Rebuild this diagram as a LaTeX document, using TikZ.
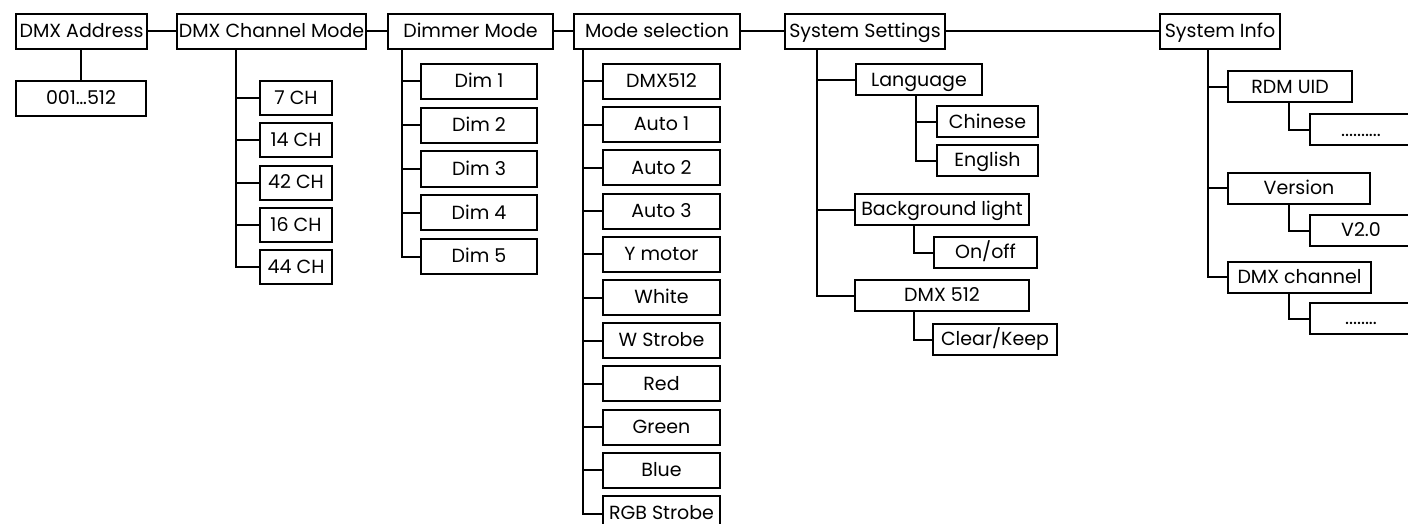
\documentclass[tikz,border=0pt]{standalone}
\usepackage{fontspec}
\setmainfont{Poppins}

\tikzset{
  menu/.style={draw, line width=2pt, inner sep=0pt, minimum height=35pt,
    text height=12.5pt, text depth=0pt, font=\fontsize{19}{21}\selectfont},
  item/.style={menu, minimum height=31pt},
  link/.style={line width=2pt}
}

\begin{document}
\begin{tikzpicture}[x=1pt, y=-1pt, line cap=rect]

    % Picture frame
    \clip (0,0) rectangle (1408,524);
    \fill[white] (0,0) rectangle (1408,524);

    % Top menu row
    \node[menu, minimum width=131pt] (addr) at (81.5,31.5) {DMX Address};
    \node[menu, minimum width=189pt] (chmode) at (271.5,31.5) {DMX Channel Mode};
    \node[menu, minimum width=165pt] (dimmer) at (470.5,31.5) {Dimmer Mode};
    \node[menu, minimum width=166pt] (modesel) at (657,31.5) {Mode selection};
    \node[menu, minimum width=160pt] (syss) at (865,31.5) {System Settings};
    \node[menu, minimum width=120pt] (sysinfo) at (1220,31.5) {System Info};

    \draw[link] (addr) -- (chmode);
    \draw[link] (chmode) -- (dimmer);
    \draw[link] (dimmer) -- (modesel);
    \draw[link] (modesel) -- (syss);
    \draw[link] (syss) -- (sysinfo);

    % DMX address
    \node[menu, minimum width=130pt] (addrval) at (81,98.5) {001…512};
    \draw[link] (addrval |- addr.south) -- (addrval);

    % Channel modes
    \begin{scope}[every node/.style={menu, minimum width=72pt, minimum height=34pt}]
        \node (ch7) at (296,98) {7 CH};
        \node (ch14) at (296,140.25) {14 CH};
        \node (ch42) at (296,182.5) {42 CH};
        \node (ch16) at (296,224.75) {16 CH};
        \node (ch44) at (296,267) {44 CH};
    \end{scope}
    \draw[link] (chmode.south west) ++(60,0) |- (ch7.west);
    \draw[link] (chmode.south west) ++(60,0) |- (ch14.west);
    \draw[link] (chmode.south west) ++(60,0) |- (ch42.west);
    \draw[link] (chmode.south west) ++(60,0) |- (ch16.west);
    \draw[link] (chmode.south west) ++(60,0) |- (ch44.west);

    % Dimmer modes
    \begin{scope}[every node/.style={menu, minimum width=116pt}]
        \node (dim1) at (479,81.5) {Dim 1};
        \node (dim2) at (479,125.25) {Dim 2};
        \node (dim3) at (479,169) {Dim 3};
        \node (dim4) at (479,212.75) {Dim 4};
        \node (dim5) at (479,256.5) {Dim 5};
    \end{scope}
    \draw[link] (dimmer.south west) ++(15,0) |- (dim1.west);
    \draw[link] (dimmer.south west) ++(15,0) |- (dim2.west);
    \draw[link] (dimmer.south west) ++(15,0) |- (dim3.west);
    \draw[link] (dimmer.south west) ++(15,0) |- (dim4.west);
    \draw[link] (dimmer.south west) ++(15,0) |- (dim5.west);

    % Run modes
    \begin{scope}[every node/.style={menu, minimum width=117pt}]
        \node (dmx) at (661.5,81.5) {DMX512};
        \node (auto1) at (661.5,124.7) {Auto 1};
        \node (auto2) at (661.5,167.9) {Auto 2};
        \node (auto3) at (661.5,211.1) {Auto 3};
        \node (ymotor) at (661.5,254.3) {Y motor};
        \node (white) at (661.5,297.5) {White};
        \node (wstrobe) at (661.5,340.7) {W Strobe};
        \node (red) at (661.5,383.9) {Red};
        \node (green) at (661.5,427.1) {Green};
        \node (blue) at (661.5,470.3) {Blue};
        \node (rgbstrobe) at (661.5,513.5) {RGB Strobe};
    \end{scope}
    \draw[link] (modesel.south west) ++(10,0) |- (dmx.west);
    \draw[link] (modesel.south west) ++(10,0) |- (auto1.west);
    \draw[link] (modesel.south west) ++(10,0) |- (auto2.west);
    \draw[link] (modesel.south west) ++(10,0) |- (auto3.west);
    \draw[link] (modesel.south west) ++(10,0) |- (ymotor.west);
    \draw[link] (modesel.south west) ++(10,0) |- (white.west);
    \draw[link] (modesel.south west) ++(10,0) |- (wstrobe.west);
    \draw[link] (modesel.south west) ++(10,0) |- (red.west);
    \draw[link] (modesel.south west) ++(10,0) |- (green.west);
    \draw[link] (modesel.south west) ++(10,0) |- (blue.west);
    \draw[link] (modesel.south west) ++(10,0) |- (rgbstrobe.west);

    % System settings
    \node[item, minimum width=126pt] (lang) at (919,80) {Language};
    \node[item, minimum width=101pt] (chinese) at (987.5,122) {Chinese};
    \node[item, minimum width=101pt] (english) at (987.5,160.5) {English};
    \node[item, minimum width=174pt] (backlight) at (942,209.5) {Background light};
    \node[item, minimum width=103pt] (onoff) at (985.5,252.5) {On/off};
    \node[item, minimum width=174pt] (dmxset) at (942,295.5) {DMX 512};
    \node[item, minimum width=124pt] (clearkeep) at (995,339.5) {Clear/Keep};

    \draw[link] (syss.south west) ++(33,0) |- (lang.west);
    \draw[link] (syss.south west) ++(33,0) |- (backlight.west);
    \draw[link] (syss.south west) ++(33,0) |- (dmxset.west);
    \draw[link] (lang.south west) ++(61,0) |- (chinese.west);
    \draw[link] (lang.south west) ++(61,0) |- (english.west);
    \draw[link] (backlight.south west) ++(60,0) |- (onoff.west);
    \draw[link] (dmxset.south west) ++(60,0) |- (clearkeep.west);

    % System info
    \node[item, minimum width=124pt] (rdm) at (1290,87) {RDM UID};
    \node[item, minimum width=102pt] (rdmval) at (1361,130) {..........};
    \node[item, minimum width=142pt] (version) at (1299,188) {Version};
    \node[item, minimum width=102pt] (verval) at (1361,230.5) {V2.0};
    \node[item, minimum width=143pt] (dmxch) at (1299.5,277) {DMX channel};
    \node[item, minimum width=102pt] (dmxchval) at (1361,318.5) {........};

    \draw[link] (sysinfo.south west) ++(49,0) |- (rdm.west);
    \draw[link] (sysinfo.south west) ++(49,0) |- (version.west);
    \draw[link] (sysinfo.south west) ++(49,0) |- (dmxch.west);
    \draw[link] (rdm.south west) ++(62,0) |- (rdmval.west);
    \draw[link] (version.south west) ++(62,0) |- (verval.west);
    \draw[link] (dmxch.south west) ++(62,0) |- (dmxchval.west);

\end{tikzpicture}
\end{document}
